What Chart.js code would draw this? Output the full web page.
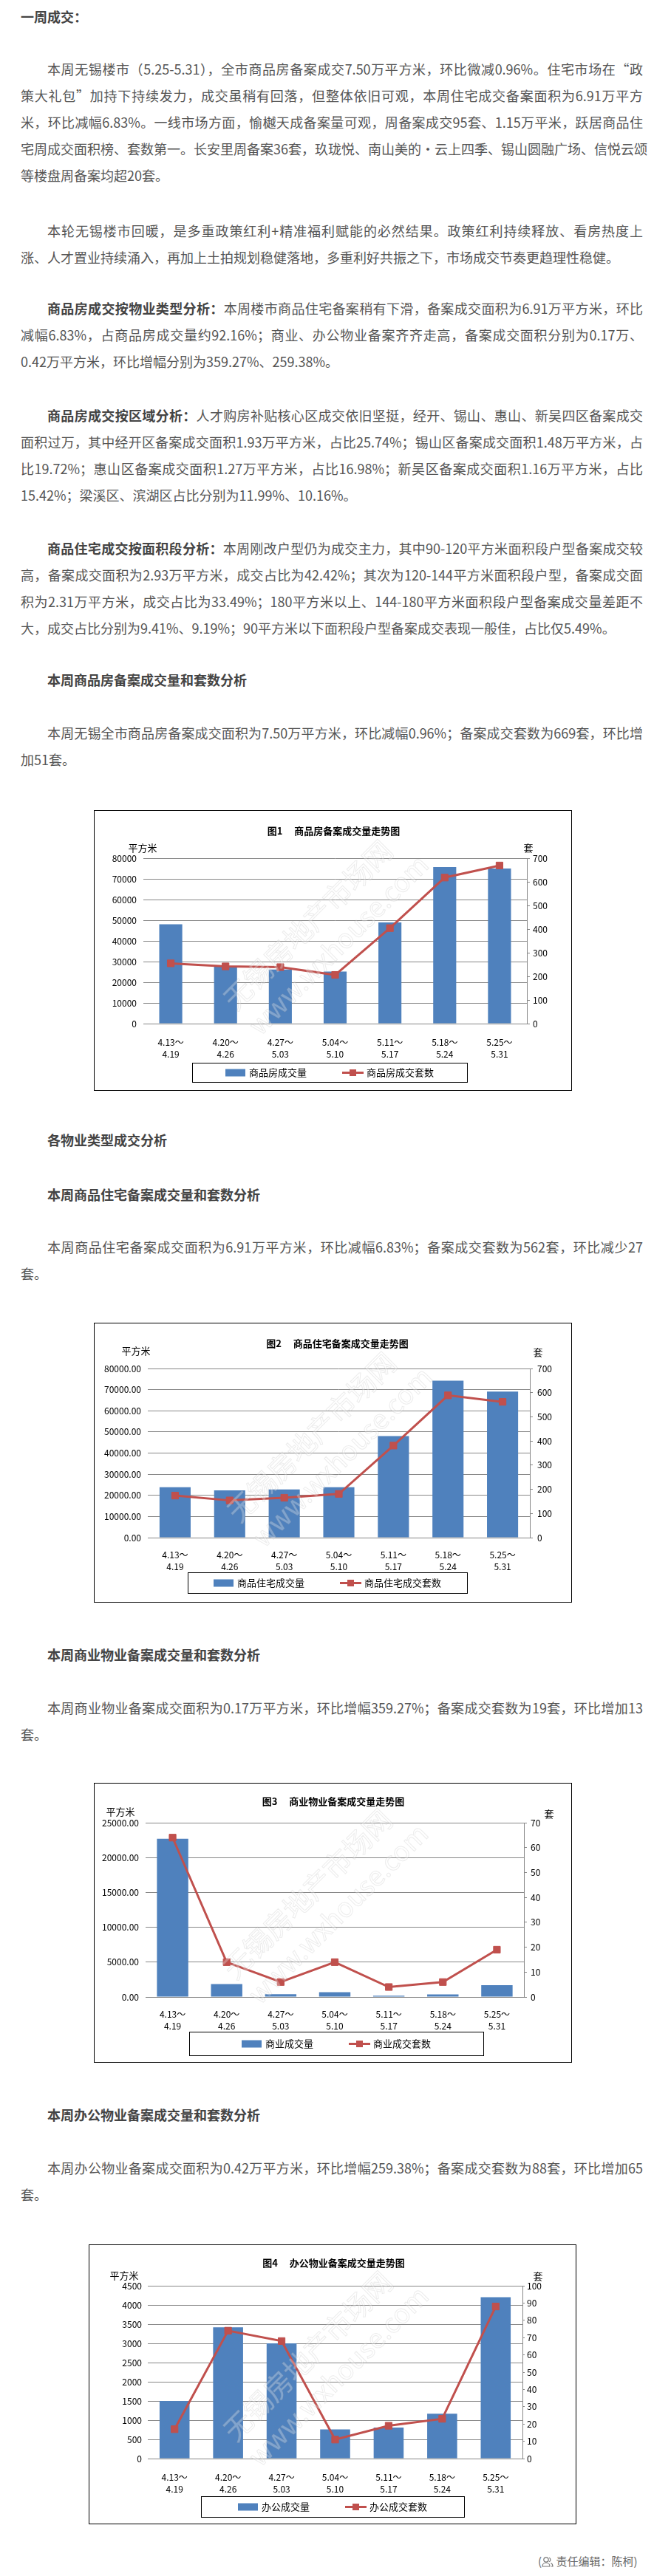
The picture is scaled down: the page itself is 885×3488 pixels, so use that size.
<!DOCTYPE html>
<html lang="zh-CN">
<head>
<meta charset="utf-8">
<title>无锡楼市一周成交</title>
<script src="https://cdn.jsdelivr.net/npm/chart.js@4.4.1/dist/chart.umd.min.js"></script>
<style>
  html, body { margin: 0; padding: 0; background: #fff; }
  body { width: 885px; height: 3488px; position: relative; overflow: hidden;
         font-family: "Noto Sans CJK SC", "Noto Sans", sans-serif; color: #555; }
  .blk { position: absolute; left: 28px; width: 842px; font-size: 18px; line-height: 36px; }
  .blk .l { white-space: nowrap; text-align: justify; text-align-last: justify; }
  .blk .l.last { text-align-last: left; }
  .blk .l.first { text-indent: 36px; }
  .blk b { color: #444; }
  .head { font-weight: bold; color: #444; }
  .box { position: absolute; border: 1px solid #000; background: #fff; }
  .box canvas { display: block; }
  .footer { position: absolute; top: 3450px; left: 728px; font-size: 15px; line-height: 36px; color: #666; white-space: nowrap; }
  .footer svg { vertical-align: -3px; }
</style>
</head>
<body>

<div class="blk head" style="top:4px">一周成交：</div>

<div class="blk" style="top:75px">
  <div class="l first">本周无锡楼市（5.25-5.31），全市商品房备案成交7.50万平方米，环比微减0.96%。住宅市场在“政</div>
  <div class="l">策大礼包”加持下持续发力，成交虽稍有回落，但整体依旧可观，本周住宅成交备案面积为6.91万平方</div>
  <div class="l">米，环比减幅6.83%。一线市场方面，愉樾天成备案量可观，周备案成交95套、1.15万平米，跃居商品住</div>
  <div class="l">宅周成交面积榜、套数第一。长安里周备案36套，玖珑悦、南山美的·云上四季、锡山圆融广场、信悦云颂</div>
  <div class="l last">等楼盘周备案均超20套。</div>
</div>

<div class="blk" style="top:294px">
  <div class="l first">本轮无锡楼市回暖，是多重政策红利+精准福利赋能的必然结果。政策红利持续释放、看房热度上</div>
  <div class="l last">涨、人才置业持续涌入，再加上土拍规划稳健落地，多重利好共振之下，市场成交节奏更趋理性稳健。</div>
</div>

<div class="blk" style="top:399px">
  <div class="l first"><b>商品房成交按物业类型分析：</b>本周楼市商品住宅备案稍有下滑，备案成交面积为6.91万平方米，环比</div>
  <div class="l">减幅6.83%，占商品房成交量约92.16%；商业、办公物业备案齐齐走高，备案成交面积分别为0.17万、</div>
  <div class="l last">0.42万平方米，环比增幅分别为359.27%、259.38%。</div>
</div>

<div class="blk" style="top:544px">
  <div class="l first"><b>商品房成交按区域分析：</b>人才购房补贴核心区成交依旧坚挺，经开、锡山、惠山、新吴四区备案成交</div>
  <div class="l">面积过万，其中经开区备案成交面积1.93万平方米，占比25.74%；锡山区备案成交面积1.48万平方米，占</div>
  <div class="l">比19.72%；惠山区备案成交面积1.27万平方米，占比16.98%；新吴区备案成交面积1.16万平方米，占比</div>
  <div class="l last">15.42%；梁溪区、滨湖区占比分别为11.99%、10.16%。</div>
</div>

<div class="blk" style="top:724px">
  <div class="l first"><b>商品住宅成交按面积段分析：</b>本周刚改户型仍为成交主力，其中90-120平方米面积段户型备案成交较</div>
  <div class="l">高，备案成交面积为2.93万平方米，成交占比为42.42%；其次为120-144平方米面积段户型，备案成交面</div>
  <div class="l">积为2.31万平方米，成交占比为33.49%；180平方米以上、144-180平方米面积段户型备案成交量差距不</div>
  <div class="l last">大，成交占比分别为9.41%、9.19%；90平方米以下面积段户型备案成交表现一般佳，占比仅5.49%。</div>
</div>

<div class="blk head" style="top:902px"><div class="l first last">本周商品房备案成交量和套数分析</div></div>
<div class="blk" style="top:974px">
  <div class="l first">本周无锡全市商品房备案成交面积为7.50万平方米，环比减幅0.96%；备案成交套数为669套，环比增</div>
  <div class="l last">加51套。</div>
</div>

<div class="box" style="left:127px; top:1097px;"><canvas id="chart1" width="645" height="378"></canvas></div>

<div class="blk head" style="top:1525px"><div class="l first last">各物业类型成交分析</div></div>
<div class="blk head" style="top:1599px"><div class="l first last">本周商品住宅备案成交量和套数分析</div></div>
<div class="blk" style="top:1670px">
  <div class="l first">本周商品住宅备案成交面积为6.91万平方米，环比减幅6.83%；备案成交套数为562套，环比减少27</div>
  <div class="l last">套。</div>
</div>

<div class="box" style="left:127px; top:1791px;"><canvas id="chart2" width="645" height="377"></canvas></div>

<div class="blk head" style="top:2222px"><div class="l first last">本周商业物业备案成交量和套数分析</div></div>
<div class="blk" style="top:2294px">
  <div class="l first">本周商业物业备案成交面积为0.17万平方米，环比增幅359.27%；备案成交套数为19套，环比增加13</div>
  <div class="l last">套。</div>
</div>

<div class="box" style="left:127px; top:2414px;"><canvas id="chart3" width="645" height="377"></canvas></div>

<div class="blk head" style="top:2845px"><div class="l first last">本周办公物业备案成交量和套数分析</div></div>
<div class="blk" style="top:2917px">
  <div class="l first">本周办公物业备案成交面积为0.42万平方米，环比增幅259.38%；备案成交套数为88套，环比增加65</div>
  <div class="l last">套。</div>
</div>

<div class="box" style="left:120px; top:3039px;"><canvas id="chart4" width="658" height="377"></canvas></div>

<div class="footer">(<svg width="16" height="16" viewBox="0 0 16 16" fill="none" stroke="#777" stroke-width="1.2"><circle cx="6" cy="5" r="3.2"/><path d="M1 14c0-3 2.2-5 5-5s5 2 5 5z"/><path d="M10 2.2a3 3 0 0 1 0 5.6M12.5 9.5c1.5.8 2.5 2.4 2.5 4.5h-2"/></svg> 责任编辑：陈柯)</div>

<script>
// 周次
const weekStarts = ['4.13', '4.20', '4.27', '5.04', '5.11', '5.18', '5.25'];
const weekEnds = ['4.19', '4.26', '5.03', '5.10', '5.17', '5.24', '5.31'];

// 图1 商品房
const houseArea = [48000, 27700, 26200, 25200, 48900, 75700, 75000];
const houseUnits = [255, 242, 239, 206, 404, 618, 669];

// 图2 商品住宅
const residArea = [23800, 22400, 22800, 23800, 48000, 74200, 69100];
const residUnits = [174, 154, 165, 181, 381, 589, 562];

// 图3 商业
const commArea = [22700, 1860, 390, 700, 175, 370, 1700];
const commUnits = [64, 14, 6, 14, 4, 6, 19];

// 图4 办公
const officeArea = [1500, 3420, 3000, 760, 810, 1170, 4200];
const officeUnits = [17, 74, 68, 11, 19, 23, 88];

const weekLabels = weekStarts.map((s, i) => [s + '～', weekEnds[i]]);

const BLUE = '#4F81BD';
const RED = '#C0504D';
const GRID = '#878787';
const FONT = '"Noto Sans CJK SC", "Noto Sans", sans-serif';

// 标题、单位、图例框、水印
const framePlugin = {
    id: 'frame',
    afterDatasetsDraw(chart) {
        const ctx = chart.ctx;
        const a = chart.chartArea;
        ctx.save();
        ctx.translate((a.left + a.right) / 2 - 20, (a.top + a.bottom) / 2 - 5);
        ctx.rotate(-Math.PI / 4);
        ctx.textAlign = 'center';
        ctx.textBaseline = 'middle';
        ctx.lineWidth = 1;
        ctx.strokeStyle = 'rgba(170,170,170,0.22)';
        ctx.fillStyle = 'rgba(255,255,255,0.28)';
        ctx.font = '38px ' + FONT;
        ctx.fillText('无锡房地产市场网', 0, -24);
        ctx.strokeText('无锡房地产市场网', 0, -24);
        ctx.font = '36px ' + FONT;
        ctx.fillText('www.wxhouse.com', 10, 24);
        ctx.strokeText('www.wxhouse.com', 10, 24);
        ctx.restore();
    },
    afterDraw(chart, args, opts) {
        const ctx = chart.ctx;
        const a = chart.chartArea;
        ctx.save();
        ctx.fillStyle = '#000';
        ctx.textBaseline = 'middle';

        ctx.font = 'bold 13px ' + FONT;
        ctx.textAlign = 'center';
        ctx.fillText(opts.title, (a.left + a.right) / 2 - 2, opts.titleY);

        ctx.font = '13px ' + FONT;
        ctx.fillText('平方米', opts.unitL[0], opts.unitL[1]);
        ctx.fillText('套', opts.unitR[0], opts.unitR[1]);

        // 图例
        const lg = opts.legend;
        ctx.strokeStyle = '#000';
        ctx.lineWidth = 1;
        ctx.strokeRect(lg.x + 0.5, lg.y + 0.5, lg.w, lg.h);
        const bar = chart.data.datasets.find(d => d.type === 'bar');
        const line = chart.data.datasets.find(d => d.type === 'line');
        const w1 = ctx.measureText(bar.label).width;
        const w2 = ctx.measureText(line.label).width;
        const total = 27 + 5 + w1 + 48 + 29 + 4 + w2;
        let x = lg.x + (lg.w - total) / 2;
        const cy = lg.y + lg.h / 2 + 0.5;
        ctx.fillStyle = bar.backgroundColor;
        ctx.fillRect(x, cy - 5, 27, 10);
        x += 32;
        ctx.fillStyle = '#000';
        ctx.textAlign = 'left';
        ctx.fillText(bar.label, x, cy);
        x += w1 + 48;
        ctx.strokeStyle = line.borderColor;
        ctx.lineWidth = 3;
        ctx.beginPath();
        ctx.moveTo(x, cy);
        ctx.lineTo(x + 29, cy);
        ctx.stroke();
        ctx.fillStyle = line.borderColor;
        ctx.fillRect(x + 14.5 - 4.5, cy - 4.5, 9, 9);
        x += 33;
        ctx.fillStyle = '#000';
        ctx.fillText(line.label, x, cy);
        ctx.restore();
    }
};

function buildChart(id, spec) {
    const canvas = document.getElementById(id);
    const W = canvas.width;
    const H = canvas.height;
    const tickFmt = v => spec.decimals ? Number(v).toFixed(2) : String(v);
    return new Chart(canvas, {
        data: {
            labels: weekLabels,
            datasets: [
                {
                    type: 'line',
                    label: spec.lineLabel,
                    data: spec.units,
                    yAxisID: 'y1',
                    borderColor: RED,
                    backgroundColor: RED,
                    borderWidth: 3,
                    pointStyle: 'rect',
                    pointRadius: 6.5,
                    pointBackgroundColor: RED,
                    pointBorderColor: RED,
                    pointBorderWidth: 1,
                    tension: 0,
                    order: 1
                },
                {
                    type: 'bar',
                    label: spec.barLabel,
                    data: spec.area,
                    yAxisID: 'y',
                    backgroundColor: BLUE,
                    barPercentage: spec.barPct,
                    categoryPercentage: 1,
                    order: 2
                }
            ]
        },
        options: {
            responsive: false,
            animation: false,
            layout: { padding: { left: 0, right: 0, top: spec.plot.top, bottom: H - spec.plot.bottom - 50 } },
            plugins: {
                legend: { display: false },
                title: { display: false },
                tooltip: { enabled: false },
                frame: { title: spec.title, titleY: spec.titleY, unitL: spec.unitL, unitR: spec.unitR, legend: spec.legend }
            },
            scales: {
                x: {
                    grid: { display: false },
                    border: { display: true, color: GRID, width: 1 },
                    ticks: { color: '#000', font: { family: FONT, size: 12, lineHeight: 1.35 }, padding: spec.xPad, maxRotation: 0, autoSkip: false },
                    afterFit: s => { s.height = 50; }
                },
                y: {
                    position: 'left',
                    min: 0,
                    max: spec.yMax,
                    ticks: { stepSize: spec.yStep, padding: spec.yPad, color: '#000', font: { family: FONT, size: 12 }, callback: tickFmt },
                    grid: { color: GRID, lineWidth: 1, drawTicks: false },
                    border: { display: false },
                    afterFit: s => { s.width = spec.plot.left; }
                },
                y1: {
                    position: 'right',
                    min: 0,
                    max: spec.y1Max,
                    ticks: { stepSize: spec.y1Step, padding: spec.y1Pad, color: '#000', font: { family: FONT, size: 12 }, callback: v => String(v) },
                    grid: { display: true, drawOnChartArea: false, drawTicks: true, tickLength: spec.y1Tick, color: GRID },
                    border: { display: true, color: GRID, width: 1 },
                    afterFit: s => { s.width = W - spec.plot.right; }
                }
            }
        },
        plugins: [framePlugin]
    });
}

document.addEventListener('DOMContentLoaded', function () {
    buildChart('chart1', {
        title: '图1　 商品房备案成交量走势图', titleY: 27,
        barLabel: '商品房成交量', lineLabel: '商品房成交套数',
        area: houseArea, units: houseUnits,
        plot: { left: 66, right: 585, top: 64, bottom: 288 },
        yMax: 80000, yStep: 10000, y1Max: 700, y1Step: 100, decimals: false,
        xPad: 9, yPad: 9, y1Tick: 4, y1Pad: 4, barPct: 0.42,
        unitL: [65, 50], unitR: [587, 50],
        legend: { x: 132, y: 341, w: 372, h: 26 }
    });
    buildChart('chart2', {
        title: '图2　 商品住宅备案成交量走势图', titleY: 27,
        barLabel: '商品住宅成交量', lineLabel: '商品住宅成交套数',
        area: residArea, units: residUnits,
        plot: { left: 72, right: 589, top: 61, bottom: 290 },
        yMax: 80000, yStep: 10000, y1Max: 700, y1Step: 100, decimals: true,
        xPad: 7, yPad: 9, y1Tick: 4, y1Pad: 6, barPct: 0.57,
        unitL: [56, 37], unitR: [600, 39],
        legend: { x: 126, y: 337, w: 378, h: 28 }
    });
    buildChart('chart3', {
        title: '图3　 商业物业备案成交量走势图', titleY: 24,
        barLabel: '商业成交量', lineLabel: '商业成交套数',
        area: commArea, units: commUnits,
        plot: { left: 69, right: 581, top: 53, bottom: 289 },
        yMax: 25000, yStep: 5000, y1Max: 70, y1Step: 10, decimals: true,
        xPad: 7, yPad: 9, y1Tick: 4, y1Pad: 5, barPct: 0.58,
        unitL: [35, 38], unitR: [615, 41],
        legend: { x: 128, y: 336, w: 398, h: 32 }
    });
    buildChart('chart4', {
        title: '图4　 办公物业备案成交量走势图', titleY: 24,
        barLabel: '办公成交量', lineLabel: '办公成交套数',
        area: officeArea, units: officeUnits,
        plot: { left: 79, right: 586, top: 55, bottom: 289 },
        yMax: 4500, yStep: 500, y1Max: 100, y1Step: 10, decimals: false,
        xPad: 9, yPad: 8, y1Tick: 3, y1Pad: 3, barPct: 0.56,
        unitL: [47, 41], unitR: [607, 42],
        legend: { x: 151, y: 340, w: 356, h: 28 }
    });
});
</script>
</body>
</html>
